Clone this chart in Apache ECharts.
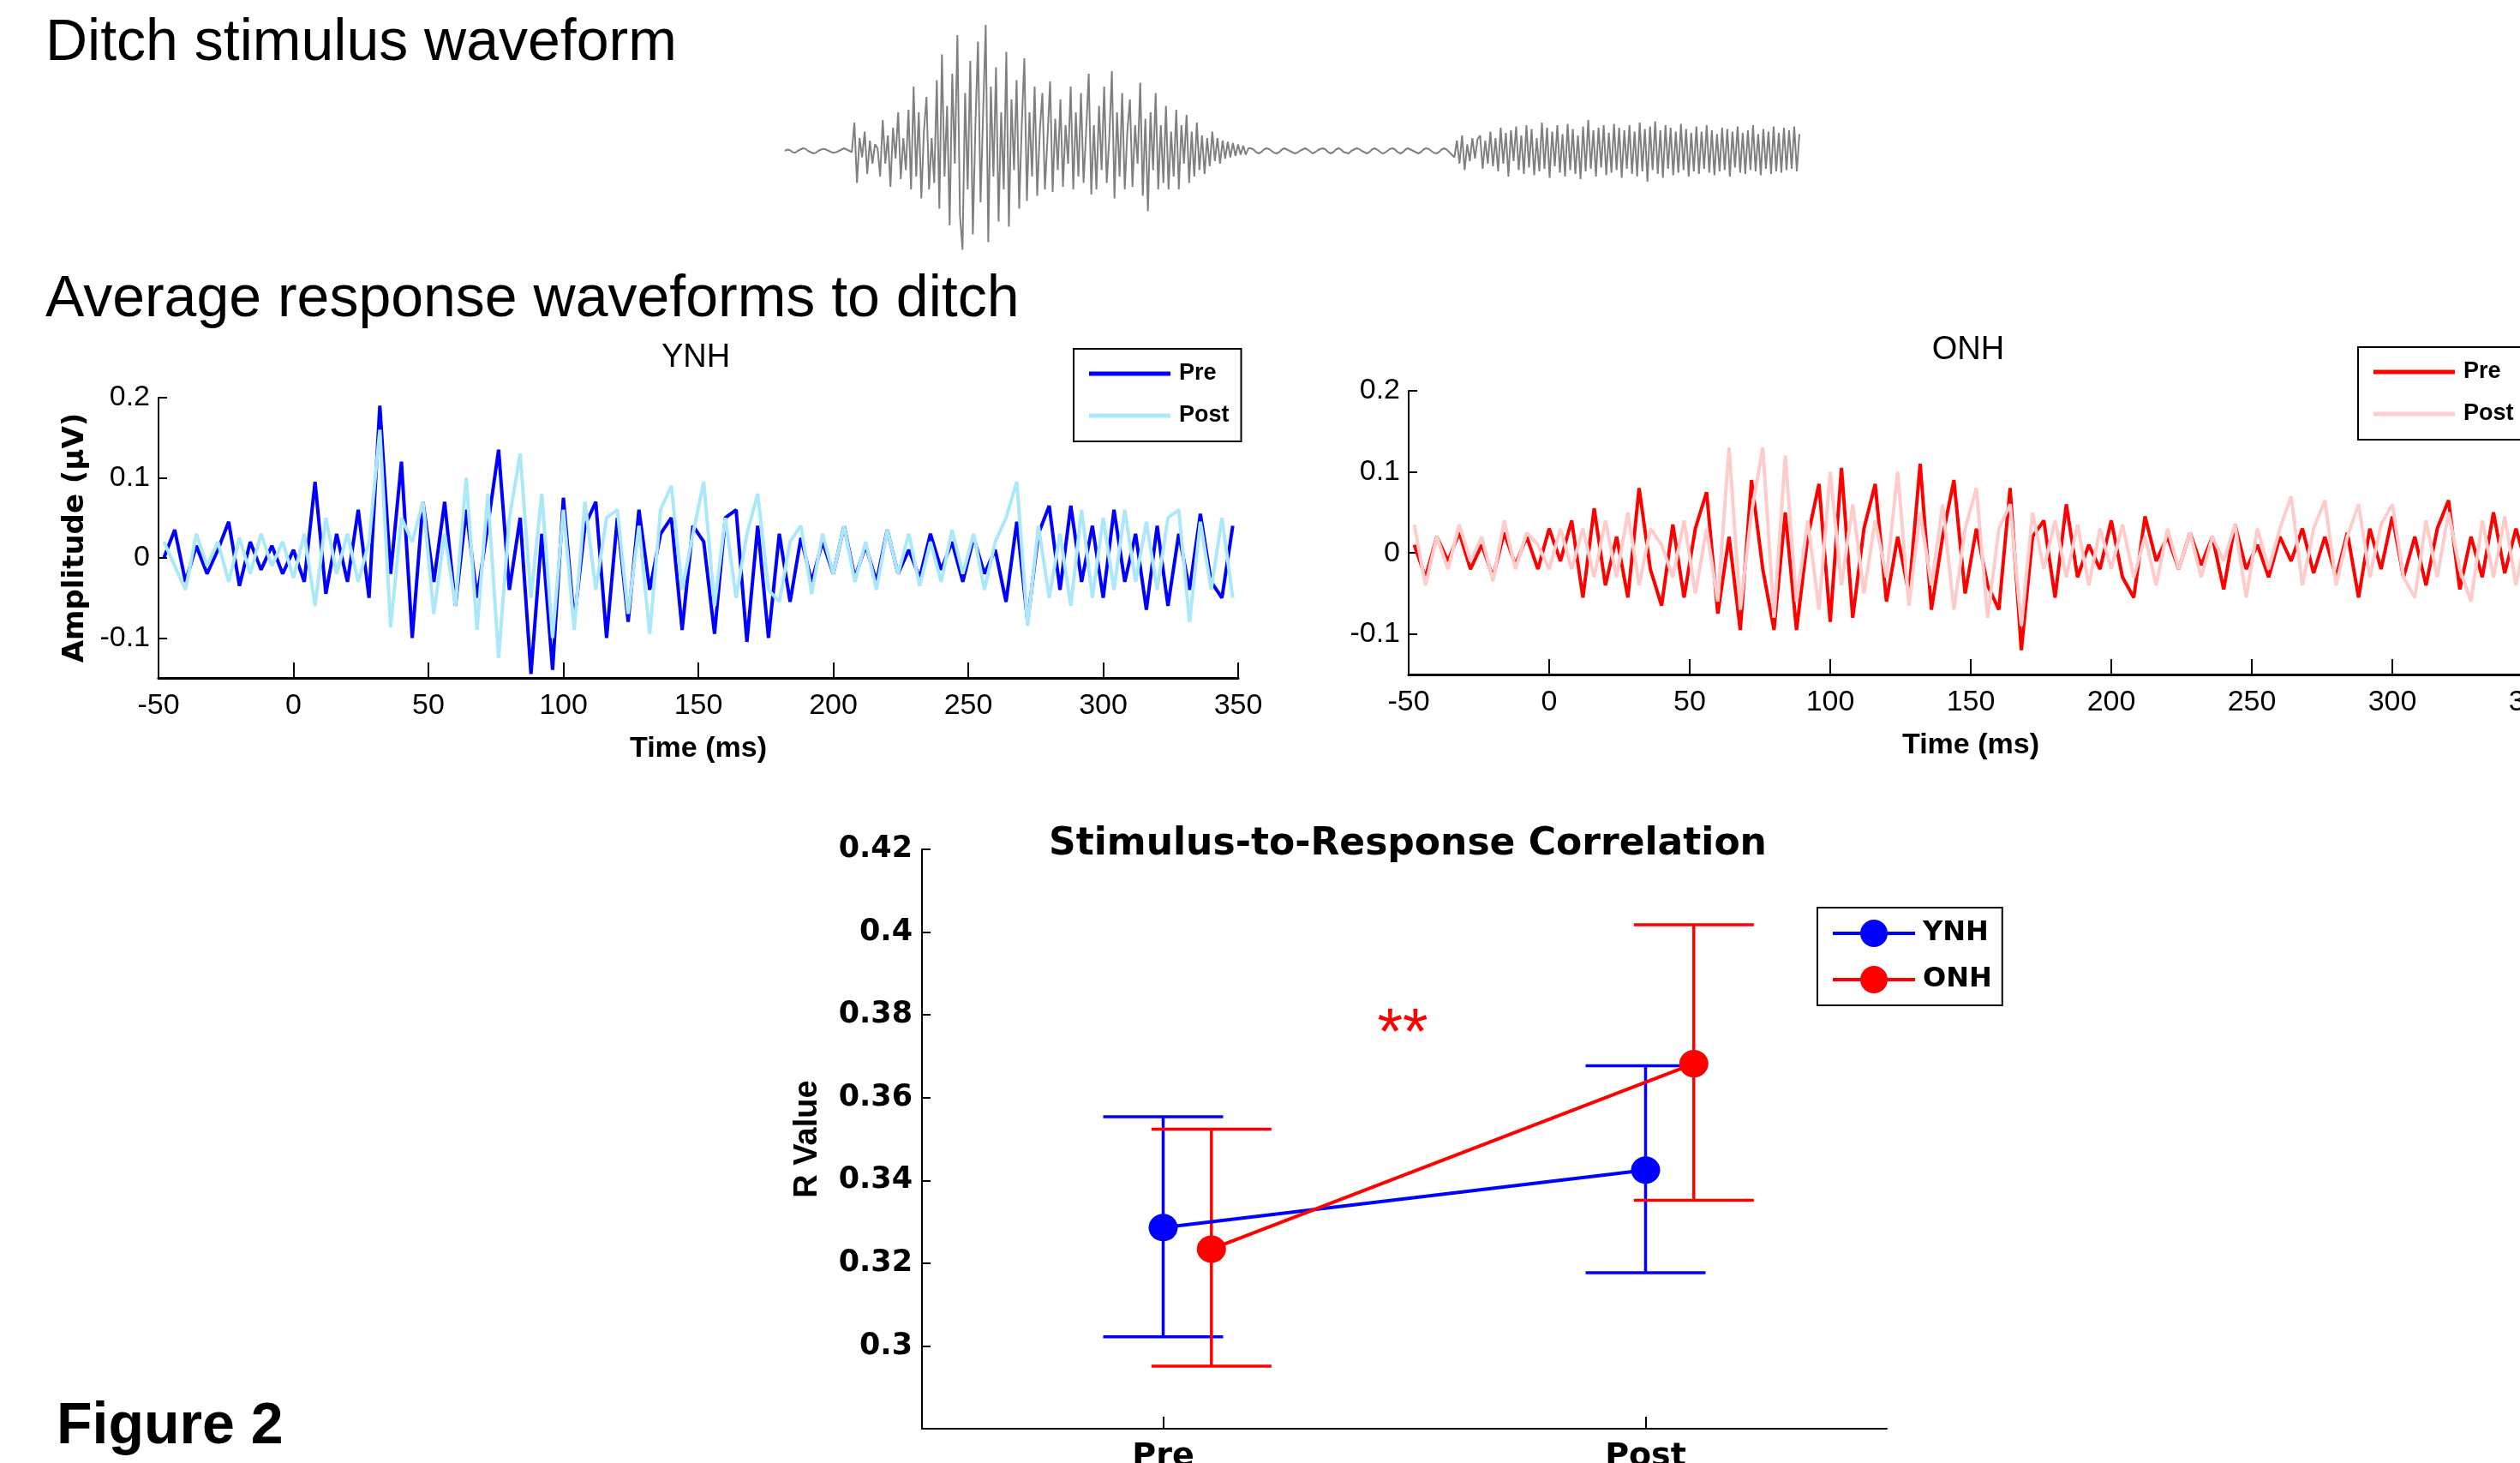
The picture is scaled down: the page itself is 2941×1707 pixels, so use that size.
<!DOCTYPE html>
<html>
<head>
<meta charset="utf-8">
<title>Figure 2</title>
<script src="https://cdn.jsdelivr.net/npm/echarts@6/dist/echarts.min.js"></script>
<style>
  html, body { margin: 0; padding: 0; background: #fff; }
  #chart { width: 2941px; height: 1707px; }
</style>
</head>
<body>
<div id="chart"></div>
<script>
// sample times of the response traces (ms)
const tStart = -48;
const tStep = 4;

// average response to ditch, YNH group
const ynhPre = [
  0.00, 0.035, -0.03, 0.015, -0.02, 0.01, 0.045, -0.035, 0.02, -0.015,
  0.015, -0.02, 0.01, -0.03, 0.095, -0.045, 0.03, -0.03, 0.06, -0.05,
  0.19, -0.02, 0.12, -0.1, 0.07, -0.03, 0.07, -0.06, 0.06, -0.05,
  0.04, 0.135, -0.04, 0.05, -0.145, 0.03, -0.14, 0.075, -0.08, 0.04,
  0.07, -0.1, 0.05, -0.08, 0.06, -0.04, 0.03, 0.05, -0.09, 0.04,
  0.02, -0.095, 0.05, 0.06, -0.105, 0.04, -0.1, 0.03, -0.055, 0.025,
  -0.03, 0.02, -0.02, 0.04, -0.025, 0.015, -0.03, 0.035, -0.02, 0.01,
  -0.025, 0.03, -0.015, 0.02, -0.03, 0.025, -0.02, 0.01, -0.055, 0.045,
  -0.08, 0.03, 0.065, -0.04, 0.065, -0.03, 0.04, -0.05, 0.06, -0.03,
  0.03, -0.065, 0.04, -0.06, 0.03, -0.04, 0.055, -0.03, -0.05, 0.04
];
const ynhPost = [
  0.02, -0.01, -0.04, 0.03, -0.01, 0.02, -0.03, 0.025, -0.02, 0.03,
  -0.01, 0.02, -0.025, 0.03, -0.06, 0.05, -0.02, 0.03, -0.03, 0.02,
  0.16, -0.087, 0.05, 0.02, 0.07, -0.07, 0.03, -0.06, 0.1, -0.09,
  0.08, -0.125, 0.05, 0.13, -0.05, 0.08, -0.1, 0.06, -0.09, 0.07,
  -0.04, 0.05, 0.06, -0.07, 0.04, -0.095, 0.06, 0.09, -0.04, 0.03,
  0.095, -0.06, 0.05, -0.05, 0.03, 0.08, -0.04, -0.055, 0.02, 0.04,
  -0.045, 0.03, -0.02, 0.04, -0.03, 0.02, -0.04, 0.035, -0.02, 0.03,
  -0.035, 0.02, -0.03, 0.035, -0.02, 0.03, -0.04, 0.02, 0.05, 0.095,
  -0.085, 0.04, -0.05, 0.03, -0.06, 0.06, -0.05, 0.05, -0.04, 0.06,
  -0.03, 0.045, -0.04, 0.05, 0.06, -0.08, 0.045, -0.04, 0.05, -0.05
];

// average response to ditch, ONH group
const onhPre = [
  0.01, -0.03, 0.02, -0.01, 0.025, -0.02, 0.01, -0.03, 0.025, -0.015,
  0.02, -0.02, 0.03, -0.01, 0.04, -0.055, 0.055, -0.04, 0.02, -0.055,
  0.08, -0.02, -0.065, 0.035, -0.055, 0.03, 0.075, -0.075, 0.02, -0.095,
  0.09, -0.02, -0.095, 0.05, -0.095, 0.02, 0.085, -0.085, 0.105, -0.08,
  0.03, 0.085, -0.06, 0.02, -0.05, 0.11, -0.07, 0.02, 0.09, -0.05,
  0.03, -0.04, -0.07, 0.08, -0.12, 0.02, 0.04, -0.055, 0.06, -0.03,
  0.01, -0.02, 0.04, -0.03, -0.055, 0.045, -0.01, 0.02, -0.02, 0.025,
  -0.015, 0.02, -0.045, 0.035, -0.02, 0.01, -0.03, 0.02, -0.01, 0.03,
  -0.025, 0.02, -0.03, 0.025, -0.055, 0.03, -0.02, 0.045, -0.03, 0.02,
  -0.04, 0.03, 0.065, -0.045, 0.02, -0.03, 0.05, -0.025, 0.03, -0.02
];
const onhPost = [
  0.035, -0.04, 0.02, -0.02, 0.035, -0.01, 0.02, -0.035, 0.04, -0.02,
  0.025, 0.01, -0.02, 0.03, -0.02, 0.03, -0.03, 0.04, -0.03, 0.05,
  -0.04, 0.03, 0.01, -0.03, 0.04, -0.05, 0.03, -0.06, 0.13, -0.07,
  0.05, 0.13, -0.08, 0.12, -0.06, 0.04, -0.07, 0.1, -0.04, 0.06,
  -0.05, 0.04, -0.03, 0.1, -0.065, 0.05, -0.04, 0.06, -0.07, 0.03,
  0.08, -0.08, 0.03, 0.06, -0.09, 0.05, -0.02, 0.04, -0.03, 0.035,
  -0.04, 0.03, -0.02, 0.035, -0.03, 0.02, -0.04, 0.03, -0.02, 0.025,
  -0.03, 0.02, -0.01, 0.035, -0.055, 0.03, -0.02, 0.03, 0.07, -0.04,
  0.03, 0.065, -0.04, 0.02, 0.06, -0.03, 0.035, 0.06, -0.03, -0.055,
  0.04, -0.03, 0.05, -0.02, -0.06, 0.04, -0.03, 0.045, -0.04, 0.03
];

// stimulus waveform (relative amplitude), piece by piece
const stimSilence = [
  0, 0.01, 0.005, -0.01, -0.015, 0, 0.01, 0.02, 0.015, 0, -0.01, -0.02, -0.015, 0,
  0.01, 0.015, 0.01, 0, -0.01, -0.015, -0.01, 0, 0.01, 0.02, 0.01, 0, -0.01
];
const stimOnset = [
  0.22, -0.25, 0.1, -0.05, 0.15, -0.18, 0.08, -0.1, 0.05, 0.02, -0.2, 0.24,
  -0.1, 0.12, -0.28, 0.18, -0.06, 0.3, -0.22, 0.1, -0.15, 0.32, -0.3
];
const stimVoiced = [
  0.5, -0.2, 0.3, -0.37, 0.15, 0.42, -0.3, 0.1, -0.25, 0.55,
  -0.45, 0.75, -0.2, 0.35, -0.58, 0.6, -0.1, 0.9, -0.5, -0.77,
  0.45, -0.3, 0.7, -0.65, 0.2, 0.85, -0.4, 0.3, 0.98, -0.71,
  0.5, -0.2, 0.65, -0.55, 0.3, -0.3, 0.77, -0.59, 0.4, -0.15,
  0.55, -0.45, 0.2, 0.72, -0.39, 0.3, -0.2, 0.5, -0.35, 0.15,
  0.45, -0.3, 0.1, 0.54, -0.32, 0.25, -0.15, 0.4, -0.28, 0.2,
  -0.1, 0.5, -0.3, 0.3, -0.2, 0.45, -0.25, 0.15, 0.6, -0.34,
  0.2, -0.3, 0.35, -0.15, 0.5, -0.25, 0.1, 0.62, -0.37, 0.3,
  -0.2, 0.45, -0.3, 0.15, 0.4, -0.28, 0.2, -0.1, 0.53, -0.35,
  0.25, -0.47, 0.3, -0.15, 0.45, -0.3, 0.2, -0.25, 0.35, -0.3,
  0.15, -0.2, 0.32, -0.3, 0.2, -0.1, 0.28, -0.25, 0.15, -0.2,
  0.22, -0.15, 0.12, -0.18, 0.1, -0.12, 0.15, -0.08, 0.1, -0.1,
  0.08, -0.06, 0.07, -0.05, 0.06, -0.04, 0.05, -0.03, 0.04, -0.03, 0.02
];
const stimClosure = [
  0.02, 0.01, -0.01, -0.02, -0.01, 0.01, 0.02, 0.015, 0, -0.015,
  -0.02, -0.01, 0.01, 0.02, 0.01, 0, -0.01, -0.02, -0.015, 0,
  0.01, 0.02, 0.01, -0.005, -0.02, -0.01, 0.005, 0.015, 0.02, 0.01,
  -0.01, -0.02, -0.01, 0.01, 0.02, 0.01, -0.01, -0.015, -0.02, 0,
  0.01, 0.02, 0.015, 0, -0.01, -0.02, -0.01, 0.01, 0.02, 0.01,
  -0.005, -0.02, -0.015, 0, 0.015, 0.02, 0.01, -0.01, -0.02, -0.01,
  0.01, 0.02, 0.01, 0, -0.01, -0.02, -0.01, 0.01, 0.02, 0.015,
  0, -0.015, -0.02, -0.01, 0.01, 0.02, 0.01, -0.01, -0.03, -0.05
];
const stimBurst = [0.08, -0.1, 0.12, -0.15, 0.05, -0.08, 0.1, -0.06, 0.09];
const stimFrication = [
  0.12, -0.14, 0.08, -0.1, 0.15, -0.12, 0.1, -0.16, 0.18, -0.1,
  0.14, -0.2, 0.16, -0.08, 0.19, -0.15, 0.12, -0.18, 0.2, -0.13,
  0.17, -0.19, 0.1, -0.16, 0.22, -0.14, 0.18, -0.21, 0.15, -0.12,
  0.2, -0.17, 0.13, -0.2, 0.21, -0.15, 0.17, -0.18, 0.12, -0.22,
  0.19, -0.16, 0.24, -0.14, 0.16, -0.2, 0.18, -0.13, 0.2, -0.19,
  0.14, -0.17, 0.21, -0.15, 0.18, -0.21, 0.16, -0.14, 0.2, -0.18,
  0.15, -0.2, 0.22, -0.16, 0.17, -0.24, 0.19, -0.15, 0.23, -0.18,
  0.16, -0.21, 0.2, -0.14, 0.18, -0.19, 0.15, -0.17, 0.21, -0.15,
  0.17, -0.2, 0.14, -0.16, 0.19, -0.18, 0.15, -0.14, 0.2, -0.17,
  0.16, -0.19, 0.13, -0.16, 0.18, -0.15, 0.17, -0.2, 0.15, -0.13,
  0.19, -0.17, 0.14, -0.18, 0.16, -0.15, 0.2, -0.16, 0.13, -0.19,
  0.17, -0.14, 0.15, -0.18, 0.19, -0.16, 0.14, -0.17, 0.18, -0.15,
  0.16, -0.14, 0.19, -0.16, 0.13
];
const stimulus = [].concat(stimSilence, stimOnset, stimVoiced, stimClosure, stimBurst, stimFrication);

// stimulus-to-response correlation
const sessions = ['Pre', 'Post'];
const ynhX = [1, 2];
const onhX = [1.1, 2.1];
const ynhMean = [0.3286, 0.3425];
const ynhLow = [0.3022, 0.3177];
const ynhHigh = [0.3554, 0.3677];
const onhMean = [0.3234, 0.3682];
const onhLow = [0.2951, 0.3352];
const onhHigh = [0.3524, 0.4018];

// tick labels
const ampTicks = [-0.1, 0, 0.1, 0.2];
const rTicks = [0.3, 0.32, 0.34, 0.36, 0.38, 0.4, 0.42];
const sessionTicks = [1, 2];

const NARROW = "'Liberation Sans Narrow', 'Arial Narrow', 'Liberation Sans', sans-serif";
const SANS = "'Liberation Sans', Arial, sans-serif";
const WIDE = "'DejaVu Sans', sans-serif";

const BLUE = '#0000ff';
const LIGHTBLUE = '#aae8fa';
const RED = '#ff0000';
const PINK = '#ffcccc';

function toPairs(vals) {
  return vals.map((v, i) => [tStart + i * tStep, v]);
}
function fmt(v) {
  return String(+v.toFixed(2));
}

// MATLAB-like axes: box off, ticks inside
function timeAxis(gridIndex) {
  return {
    gridIndex: gridIndex,
    type: 'value',
    min: -50,
    max: 350,
    interval: 50,
    axisLine: { onZero: false, lineStyle: { color: '#000', width: 3 } },
    axisTick: { inside: true, length: 18, lineStyle: { color: '#000', width: 2 } },
    axisLabel: { margin: 16, fontSize: 34, fontFamily: NARROW, color: '#000', formatter: v => String(v) },
    splitLine: { show: false },
    name: 'Time (ms)',
    nameLocation: 'middle',
    nameGap: 66,
    nameTextStyle: { fontSize: 34, fontWeight: 'bold', fontFamily: NARROW, color: '#000' }
  };
}
function ampAxis(gridIndex, withName) {
  const ax = {
    gridIndex: gridIndex,
    type: 'value',
    min: -0.15,
    max: 0.2,
    axisLine: { show: true, onZero: false, lineStyle: { color: '#000', width: 2 } },
    axisTick: { show: true, inside: true, length: 10, customValues: ampTicks, lineStyle: { color: '#000', width: 2 } },
    axisLabel: { customValues: ampTicks, margin: 10, fontSize: 34, fontFamily: NARROW, color: '#000', formatter: fmt },
    splitLine: { show: false }
  };
  if (withName) {
    ax.name = 'Amplitude (\u00b5V)';
    ax.nameLocation = 'middle';
    ax.nameGap = 80;
    ax.nameTextStyle = { fontSize: 34, fontWeight: 'bold', fontFamily: WIDE, color: '#000' };
  }
  return ax;
}
function traceSeries(name, axis, vals, color) {
  return {
    name: name,
    type: 'line',
    xAxisIndex: axis,
    yAxisIndex: axis,
    data: toPairs(vals),
    symbol: 'none',
    lineStyle: { color: color, width: 4 },
    itemStyle: { color: color },
    silent: true
  };
}
function waveLegend(left, top, names) {
  return {
    left: left,
    top: top,
    orient: 'vertical',
    data: names,
    formatter: n => n.split(' ')[1],
    icon: 'rect',
    itemWidth: 95,
    itemHeight: 5,
    itemGap: 19,
    padding: [14, 14, 15, 18],
    borderColor: '#000',
    borderWidth: 2,
    backgroundColor: '#fff',
    textStyle: { fontSize: 27, fontWeight: 'bold', fontFamily: SANS, color: '#000', lineHeight: 30, padding: [0, 0, 0, 5] },
    selectedMode: false
  };
}
function errorBars(xs, lows, highs, color) {
  return {
    type: 'custom',
    xAxisIndex: 3,
    yAxisIndex: 3,
    data: xs.map((x, i) => [x, lows[i], highs[i]]),
    renderItem(params, api) {
      const top = api.coord([api.value(0), api.value(2)]);
      const bot = api.coord([api.value(0), api.value(1)]);
      const hw = 70;
      const st = { stroke: color, lineWidth: 3.5 };
      return {
        type: 'group',
        children: [
          { type: 'line', shape: { x1: top[0], y1: top[1], x2: bot[0], y2: bot[1] }, style: st },
          { type: 'line', shape: { x1: top[0] - hw, y1: top[1], x2: top[0] + hw, y2: top[1] }, style: st },
          { type: 'line', shape: { x1: bot[0] - hw, y1: bot[1], x2: bot[0] + hw, y2: bot[1] }, style: st }
        ]
      };
    },
    silent: true,
    z: 1
  };
}

const chart = echarts.init(document.getElementById('chart'), null, { renderer: 'canvas' });

chart.setOption({
  animation: false,
  backgroundColor: '#fff',
  grid: [
    { left: 916, top: 26, width: 1184, height: 300, outerBoundsMode: 'none' },
    { left: 185, top: 464, width: 1260, height: 327, outerBoundsMode: 'none' },
    { left: 1644, top: 456, width: 1312, height: 331, outerBoundsMode: 'none' },
    { left: 1076, top: 991, width: 1126, height: 676, outerBoundsMode: 'none' }
  ],
  xAxis: [
    { gridIndex: 0, type: 'value', min: 0, max: stimulus.length - 1, show: false },
    timeAxis(1),
    timeAxis(2),
    {
      gridIndex: 3,
      type: 'value',
      min: 0.5,
      max: 2.5,
      axisLine: { onZero: false, lineStyle: { color: '#000', width: 2 } },
      axisTick: { inside: true, length: 14, customValues: sessionTicks, lineStyle: { color: '#000', width: 2 } },
      axisLabel: { customValues: sessionTicks, margin: 14, fontSize: 38, fontWeight: 'bold', fontFamily: WIDE, color: '#000', formatter: v => sessions[Math.round(v) - 1] },
      splitLine: { show: false }
    }
  ],
  yAxis: [
    { gridIndex: 0, type: 'value', min: -1, max: 1, show: false },
    ampAxis(1, true),
    ampAxis(2, false),
    {
      gridIndex: 3,
      type: 'value',
      min: 0.28,
      max: 0.42,
      axisLine: { show: true, onZero: false, lineStyle: { color: '#000', width: 2 } },
      axisTick: { show: true, inside: true, length: 10, customValues: rTicks, lineStyle: { color: '#000', width: 2 } },
      axisLabel: { customValues: rTicks, margin: 11, fontSize: 35, fontWeight: 'bold', fontFamily: WIDE, color: '#000', formatter: fmt },
      splitLine: { show: false },
      name: 'R Value',
      nameLocation: 'middle',
      nameGap: 114,
      nameTextStyle: { fontSize: 38, fontWeight: 'bold', fontFamily: SANS, color: '#000' }
    }
  ],
  legend: [
    waveLegend(1253, 407, ['YNH Pre', 'YNH Post']),
    waveLegend(2752, 405, ['ONH Pre', 'ONH Post']),
    {
      left: 2121,
      top: 1059,
      orient: 'vertical',
      data: ['YNH', 'ONH'],
      itemWidth: 96,
      itemHeight: 40,
      itemGap: 14,
      padding: [10, 12, 10, 16],
      borderColor: '#000',
      borderWidth: 2,
      backgroundColor: '#fff',
      lineStyle: { width: 4 },
      textStyle: { fontSize: 32, fontWeight: 'bold', fontFamily: WIDE, color: '#000', lineHeight: 40, padding: [0, 0, 0, 4] },
      selectedMode: false
    }
  ],
  graphic: [
    { type: 'text', x: 53, y: 51, style: { text: 'Ditch stimulus waveform', font: '68px ' + SANS, fill: '#000', align: 'left', verticalAlign: 'middle' } },
    { type: 'text', x: 53, y: 350, style: { text: 'Average response waveforms to ditch', font: '68px ' + SANS, fill: '#000', align: 'left', verticalAlign: 'middle' } },
    { type: 'text', x: 812, y: 418, style: { text: 'YNH', font: '38px ' + NARROW, fill: '#000', align: 'center', verticalAlign: 'middle' } },
    { type: 'text', x: 2297, y: 409, style: { text: 'ONH', font: '38px ' + NARROW, fill: '#000', align: 'center', verticalAlign: 'middle' } },
    { type: 'text', x: 1643, y: 986, style: { text: 'Stimulus-to-Response Correlation', font: 'bold 44px ' + WIDE, fill: '#000', align: 'center', verticalAlign: 'middle' } },
    { type: 'text', x: 1637, y: 1208, style: { text: '**', font: '76px ' + SANS, fill: RED, align: 'center', verticalAlign: 'middle' } },
    { type: 'text', x: 66, y: 1665, style: { text: 'Figure 2', font: 'bold 68px ' + SANS, fill: '#000', align: 'left', verticalAlign: 'middle' } }
  ],
  series: [
    {
      type: 'line',
      xAxisIndex: 0,
      yAxisIndex: 0,
      data: stimulus.map((v, i) => [i, v]),
      symbol: 'none',
      lineStyle: { color: '#808080', width: 2 },
      silent: true
    },
    traceSeries('YNH Pre', 1, ynhPre, BLUE),
    traceSeries('YNH Post', 1, ynhPost, LIGHTBLUE),
    traceSeries('ONH Pre', 2, onhPre, RED),
    traceSeries('ONH Post', 2, onhPost, PINK),
    errorBars(ynhX, ynhLow, ynhHigh, BLUE),
    errorBars(onhX, onhLow, onhHigh, RED),
    {
      name: 'YNH',
      type: 'line',
      xAxisIndex: 3,
      yAxisIndex: 3,
      data: ynhX.map((x, i) => [x, ynhMean[i]]),
      symbol: 'circle',
      symbolSize: [34, 32],
      lineStyle: { color: BLUE, width: 4 },
      itemStyle: { color: BLUE },
      z: 3
    },
    {
      name: 'ONH',
      type: 'line',
      xAxisIndex: 3,
      yAxisIndex: 3,
      data: onhX.map((x, i) => [x, onhMean[i]]),
      symbol: 'circle',
      symbolSize: [34, 32],
      lineStyle: { color: RED, width: 4 },
      itemStyle: { color: RED },
      z: 3
    }
  ]
});
</script>
</body>
</html>
